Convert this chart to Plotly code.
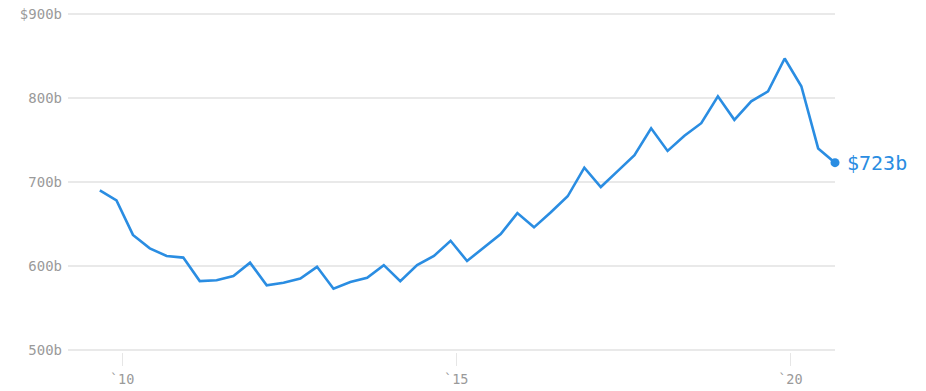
import pandas as pd
import plotly.graph_objects as go

# Quarterly values, $ billions
quarters = pd.date_range("2009-09-01", periods=45, freq="3MS")
values = [
    690, 678, 637, 621, 612, 610, 582, 583, 588, 604,
    577, 580, 585, 599, 573, 581, 586, 601, 582, 601,
    612, 630, 606, 622, 638, 663, 646, 664, 683, 717,
    694, 713, 732, 764, 737, 755, 770, 802, 774, 796,
    808, 847, 814, 740, 723,
]

y_ticks = [500, 600, 700, 800, 900]
y_labels = ["500b", "600b", "700b", "800b", "$900b"]
x_ticks = ["2010-01-01", "2015-01-01", "2020-01-01"]
x_labels = ["`10", "`15", "`20"]

blue = "#2a8de2"
gray = "#9a9a9a"
mono = "DejaVu Sans Mono"

fig = go.Figure()
fig.add_trace(go.Scatter(
    x=quarters, y=values, mode="lines",
    line=dict(color=blue, width=2.6),
    hoverinfo="skip", showlegend=False, cliponaxis=False,
))
fig.add_trace(go.Scatter(
    x=[quarters[-1]], y=[values[-1]], mode="markers",
    marker=dict(color=blue, size=9),
    hoverinfo="skip", showlegend=False, cliponaxis=False,
))
fig.add_annotation(
    x=quarters[-1], y=values[-1], text=f"${values[-1]}b",
    showarrow=False, xanchor="left", yanchor="middle", xshift=10,
    font=dict(family=mono, size=20, color=blue),
)

fig.update_layout(
    width=926, height=391,
    margin=dict(l=68, r=91, t=12, b=39),
    paper_bgcolor="white", plot_bgcolor="white",
    xaxis=dict(
        range=[pd.Timestamp("2009-03-11"), quarters[-1]],
        tickmode="array", tickvals=x_ticks, ticktext=x_labels,
        showgrid=False, zeroline=False, showline=False, automargin=False,
        ticks="outside", ticklen=13, tickcolor="#e6e6e6", tickwidth=1,
        ticklabelstandoff=2,
        tickfont=dict(family=mono, size=13.5, color=gray),
    ),
    yaxis=dict(
        range=[497.62, 902.38],
        tickmode="array", tickvals=y_ticks, ticktext=y_labels,
        showgrid=True, gridcolor="#e9e9e9", gridwidth=1.5,
        zeroline=False, showline=False, ticks="", automargin=False,
        ticklabelstandoff=5,
        tickfont=dict(family=mono, size=14, color=gray),
    ),
)

fig.write_html("out.html")
